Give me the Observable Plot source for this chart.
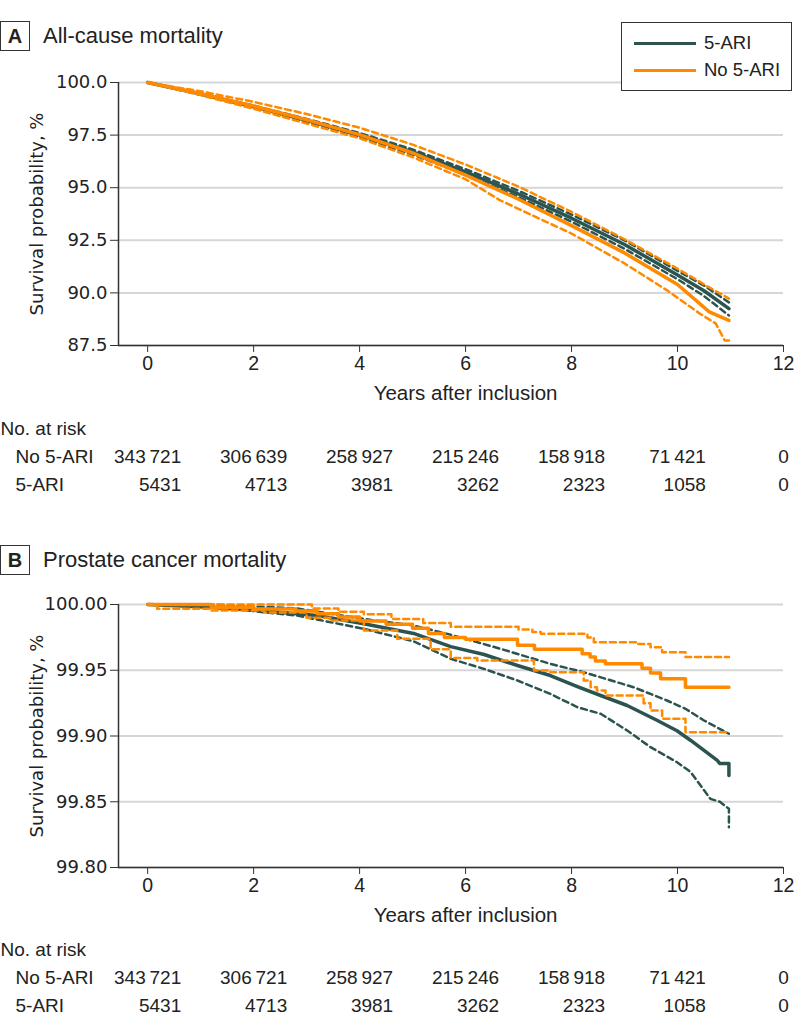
<!DOCTYPE html>
<html><head><meta charset="utf-8">
<script src="https://cdn.jsdelivr.net/npm/d3@7"></script>
<script src="https://cdn.jsdelivr.net/npm/@observablehq/plot@0.6"></script>
<style>
body{margin:0;background:#fff;}
#root{position:relative;width:794px;height:1035px;overflow:hidden;font-family:"Liberation Sans",Arial,sans-serif;color:#222;}
#root svg{position:absolute;left:0;overflow:visible;}
.badge{position:absolute;left:0;width:28px;height:28px;border:1.5px solid #333;font-weight:bold;font-size:20px;display:flex;align-items:center;justify-content:center;background:#fff;}
.ptitle{position:absolute;left:43px;font-size:22px;line-height:30px;}
.legend{position:absolute;left:621px;top:22px;width:169px;height:67px;border:1.5px solid #333;background:#fff;z-index:5;}
.lg{position:absolute;left:12px;font-size:18.5px;line-height:22px;}
.lg span.sw{position:absolute;left:0;top:10px;width:62px;height:0;border-top:3.5px solid;}
.lg span.tx{position:absolute;left:70px;top:0;white-space:nowrap;}
</style></head><body><div id="root"></div>
<script>
// ---------- data ----------
const groups = ["5-ARI", "No 5-ARI"];
const groupColors = ["#2b5451", "#ff8a00"];
const xTicks = [0, 2, 4, 6, 8, 10, 12];
const xDomain = [-0.55, 12];
const xLabel = "Years after inclusion";
const yLabel = "Survival probability, %";

// Panel A: all-cause mortality, survival %
const yTicksA = [87.5, 90, 92.5, 95, 97.5, 100];
const A_ari = [[0,100],[1,99.45],[2,98.85],[3,98.2],[4,97.5],[5,96.7],[6,95.75],[7,94.7],[8,93.55],[9,92.3],[10,90.85],[10.5,90.1],[10.97,89.25]];
const A_ari_hi = [[0,100],[1,99.48],[2,98.9],[3,98.27],[4,97.6],[5,96.82],[6,95.88],[7,94.85],[8,93.72],[9,92.5],[10,91.05],[10.5,90.35],[10.97,89.55]];
const A_ari_lo = [[0,100],[1,99.42],[2,98.8],[3,98.13],[4,97.4],[5,96.58],[6,95.62],[7,94.55],[8,93.38],[9,92.1],[10,90.65],[10.5,89.85],[10.97,88.93]];
const A_no = [[0,100],[1,99.47],[2,98.88],[3,98.23],[4,97.52],[5,96.65],[6,95.6],[7,94.45],[8,93.2],[9,91.9],[10,90.4],[10.6,89.1],[10.75,88.93],[10.97,88.69]];
const A_no_hi = [[0,100],[1,99.58],[2,99.08],[3,98.5],[4,97.85],[5,97.05],[6,96.1],[7,95.05],[8,93.85],[9,92.55],[10,91.15],[10.6,90.26],[10.97,89.73]];
const A_no_lo = [[0,100],[1,99.4],[2,98.75],[3,98.05],[4,97.35],[5,96.45],[6,95.4],[6.66,94.39],[8,92.82],[9,91.4],[9.81,90.11],[10.43,89.0],[10.72,88.55],[10.89,87.74],[10.97,87.74]];
const riskA_no = [343721, 306639, 258927, 215246, 158918, 71421, 0];
const riskA_ari = [5431, 4713, 3981, 3262, 2323, 1058, 0];

// Panel B: prostate cancer mortality, survival %
const yTicksB = [99.8, 99.85, 99.9, 99.95, 100];
const B_ari = [[0,100],[1.19,99.998],[2.2,99.995],[3.2,99.9916],[4.08,99.9853],[5.02,99.978],[5.72,99.968],[6.35,99.962],[6.98,99.9536],[7.6,99.946],[8.11,99.9376],[8.55,99.9308],[9.05,99.9232],[9.62,99.9118],[9.99,99.904],[10.25,99.8966],[10.5,99.889],[10.75,99.8814],[10.8,99.879],[10.97,99.879],[10.97,99.87]];
const B_ari_hi = [[0,100],[1.19,100],[2.82,99.997],[4.08,99.989],[5.02,99.984],[5.72,99.977],[6.66,99.9663],[7.6,99.9549],[8.23,99.9485],[9.17,99.9371],[9.8,99.927],[10.15,99.9207],[10.5,99.9118],[10.97,99.9017]];
const B_ari_lo = [[0,100],[0.5,99.9995],[1.57,99.9967],[2.82,99.9916],[4.08,99.9815],[5.02,99.972],[5.72,99.9587],[6.35,99.951],[6.98,99.9422],[7.6,99.932],[8.11,99.9219],[8.55,99.9169],[9.05,99.9042],[9.49,99.8915],[9.99,99.8801],[10.25,99.8725],[10.62,99.8522],[10.8,99.85],[10.97,99.8446],[10.97,99.8307]];
const B_no = [[0,100],[1.2,99.998],[2.0,99.9965],[2.8,99.995],[3.2,99.993],[3.6,99.9905],[4.0,99.9875],[4.5,99.985],[5.0,99.982],[5.3,99.978],[5.6,99.975],[6.0,99.9735],[6.98,99.969],[7.3,99.966],[8.2,99.9625],[8.35,99.96],[8.45,99.957],[8.64,99.955],[9.33,99.9515],[9.49,99.948],[9.68,99.9435],[10.15,99.937],[10.97,99.937]];
const B_no_hi = [[0,100],[3.1,99.997],[3.6,99.9945],[4.08,99.9925],[4.6,99.989],[5.2,99.986],[5.72,99.983],[7.0,99.981],[7.26,99.979],[7.42,99.9777],[8.3,99.975],[8.42,99.9713],[9.24,99.97],[9.49,99.9675],[9.71,99.9637],[10.15,99.96],[10.97,99.96]];
const B_no_lo = [[0,100],[0.18,99.9967],[1.19,99.9954],[2.2,99.994],[3.0,99.99],[3.45,99.9878],[4.08,99.9802],[4.71,99.9739],[5.34,99.966],[5.72,99.9594],[6.22,99.9574],[7.29,99.9498],[7.6,99.9485],[8.23,99.9422],[8.36,99.9371],[8.48,99.9346],[8.64,99.9308],[9.36,99.925],[9.49,99.9194],[9.71,99.9131],[10.15,99.9029],[10.97,99.9029]];
const riskB_no = [343721, 306721, 258927, 215246, 158918, 71421, 0];
const riskB_ari = [5431, 4713, 3981, 3262, 2323, 1058, 0];
const riskRows = ["No. at risk", "No 5-ARI", "5-ARI"];

// ---------- helpers ----------
const root = document.getElementById("root");
const SANS = "'Liberation Sans', Arial, sans-serif";
const DV = "'DejaVu Sans', Verdana, sans-serif";
const fmtN = n => n >= 10000 ? d3.format(",")(n).replace(/,/g, "\u2009") : String(n);
const ctx = document.createElement("canvas").getContext("2d");
function textW(s, font) { ctx.font = font; return ctx.measureText(s).width; }
const xMid = (xTicks[0] + xTicks[xTicks.length - 1]) / 2;

function addDiv(cls, css, html) {
  const d = document.createElement("div");
  d.className = cls; d.style.cssText = css; d.innerHTML = html;
  root.appendChild(d); return d;
}

function panel(top, yDomain, yTicks, yFmt, series) {
  const lineMarks = series.map(s => Plot.line(s.data, {
    x: d => d[0], y: d => d[1], stroke: s.color,
    strokeWidth: s.dashed ? 2.5 : 3.5,
    strokeDasharray: s.dashed ? "6,4" : null,
    curve: s.step ? "step-after" : "linear"
  }));
  const p = Plot.plot({
    width: 794, height: 10 + 263 + 62,
    marginTop: 10, marginBottom: 62, marginLeft: 118, marginRight: 11,
    x: {domain: xDomain},
    y: {domain: yDomain},
    style: {background: "transparent", overflow: "visible"},
    marks: [
      Plot.gridY(yTicks, {stroke: "#d6d6d6", strokeWidth: 2, strokeOpacity: 1}),
      Plot.axisY(yTicks, {tickFormat: yFmt, tickSize: 8, tickPadding: 3, stroke: "#333",
        fontSize: 18, fontFamily: DV, fill: "#222", label: null}),
      Plot.axisX(xTicks, {tickSize: 7, tickPadding: 4, stroke: "#333",
        fontSize: 19.5, fontFamily: SANS, fill: "#222", label: null}),
      Plot.text([yLabel], {text: d => d, frameAnchor: "left", rotate: -90, dx: -81,
        fontSize: 18, fontFamily: DV, fill: "#222", textAnchor: "middle", lineAnchor: "middle"}),
      Plot.text([xLabel], {x: () => xMid, text: d => d, frameAnchor: "bottom", dy: 48,
        fontSize: 20.5, fontFamily: SANS, fill: "#222", textAnchor: "middle", lineAnchor: "middle"}),
      Plot.ruleY([yDomain[0]], {stroke: "#333", strokeWidth: 1.5}),
      Plot.ruleX([xDomain[0]], {stroke: "#333", strokeWidth: 1.5}),
      ...lineMarks
    ]
  });
  p.style.top = (top - 10) + "px";
  root.appendChild(p);
}

function riskTable(top, noArr, ariArr) {
  const font = "19px " + SANS;
  const colMarks = xTicks.map((yr, i) => {
    const w = textW(fmtN(noArr[i]), font);
    return Plot.text([{r: "No 5-ARI", v: noArr[i]}, {r: "5-ARI", v: ariArr[i]}], {
      x: () => yr, y: "r", text: d => fmtN(d.v), textAnchor: "end", dx: w / 2,
      fontSize: 19, fontFamily: SANS, fill: "#222"
    });
  });
  const t = Plot.plot({
    width: 794, height: 92, marginTop: 0, marginBottom: 0, marginLeft: 118, marginRight: 11,
    x: {domain: xDomain, axis: null},
    y: {type: "point", domain: riskRows, range: [18, 74], padding: 0, axis: null},
    style: {background: "transparent", overflow: "visible"},
    marks: [
      Plot.text(riskRows.slice(0, 1), {y: d => d, text: d => d, frameAnchor: "left", textAnchor: "start", dx: -118, fontSize: 19, fontFamily: SANS, fill: "#222"}),
      Plot.text(riskRows.slice(1), {y: d => d, text: d => d, frameAnchor: "left", textAnchor: "start", dx: -103, fontSize: 19, fontFamily: SANS, fill: "#222"}),
      ...colMarks
    ]
  });
  t.style.top = top + "px";
  root.appendChild(t);
}

// ---------- Panel A ----------
addDiv("badge", "top:21px;", "A");
addDiv("ptitle", "top:21px;", "All-cause mortality");
panel(82, [87.5, 100], yTicksA, d3.format(".1f"), [
  {data: A_ari_hi, color: groupColors[0], dashed: true},
  {data: A_ari_lo, color: groupColors[0], dashed: true},
  {data: A_ari, color: groupColors[0]},
  {data: A_no_hi, color: groupColors[1], dashed: true},
  {data: A_no_lo, color: groupColors[1], dashed: true},
  {data: A_no, color: groupColors[1]}
]);
riskTable(410, riskA_no, riskA_ari);

// legend
const lg = addDiv("legend", "", "");
groups.forEach((g, i) => {
  const item = document.createElement("div");
  item.className = "lg";
  item.style.top = (9 + i * 27) + "px";
  item.innerHTML = `<span class="sw" style="border-color:${groupColors[i]}"></span><span class="tx">${g}</span>`;
  lg.appendChild(item);
});

// ---------- Panel B ----------
addDiv("badge", "top:545px;", "B");
addDiv("ptitle", "top:545px;", "Prostate cancer mortality");
panel(604, [99.8, 100], yTicksB, d3.format(".2f"), [
  {data: B_ari_hi, color: groupColors[0], dashed: true},
  {data: B_ari_lo, color: groupColors[0], dashed: true},
  {data: B_ari, color: groupColors[0]},
  {data: B_no_hi, color: groupColors[1], dashed: true, step: true},
  {data: B_no_lo, color: groupColors[1], dashed: true, step: true},
  {data: B_no, color: groupColors[1], step: true}
]);
riskTable(931, riskB_no, riskB_ari);
</script></body></html>
